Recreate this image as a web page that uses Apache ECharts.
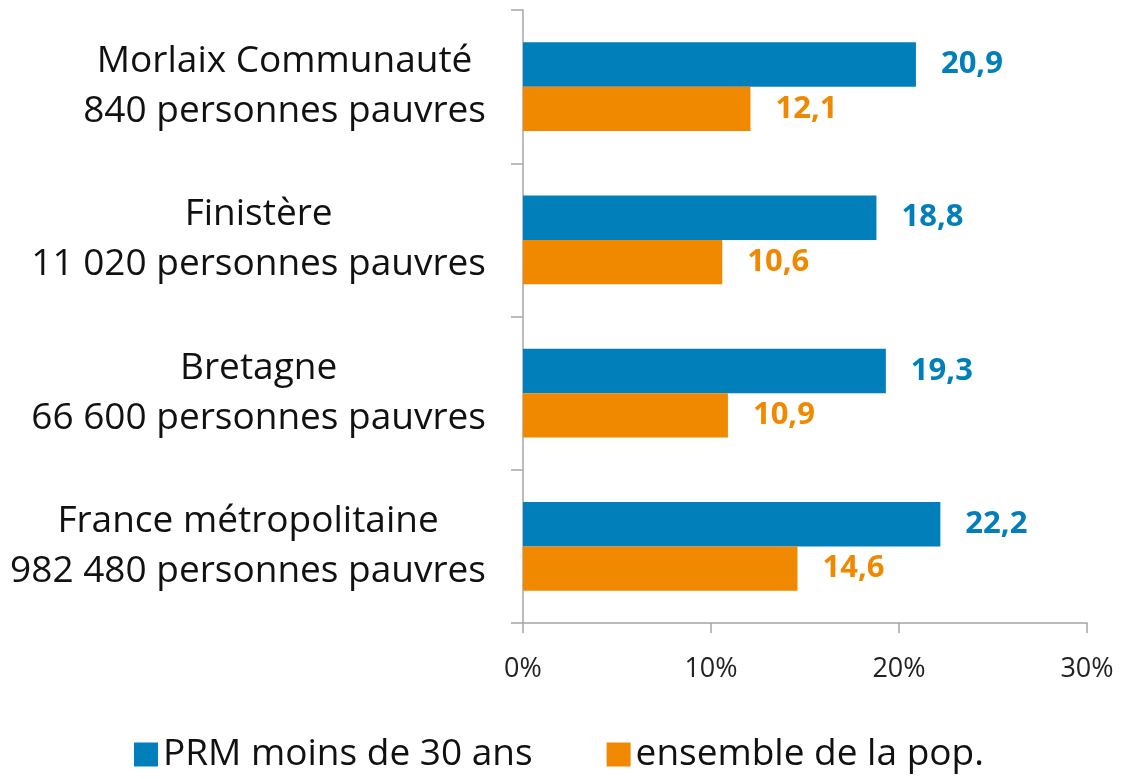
<!DOCTYPE html>
<html>
<head>
<meta charset="utf-8">
<style>
    html, body { margin: 0; padding: 0; background: #fff; }
    #chart { width: 1125px; height: 779px; }
</style>
<script src="https://cdn.jsdelivr.net/npm/echarts@6/dist/echarts.min.js"></script>
</head>
<body>
<div id="chart"></div>
<script>
    // territoires (2 lignes : nom + nombre de personnes pauvres)
    var territoires = ['Morlaix Communauté', 'Finistère', 'Bretagne', 'France métropolitaine'];
    var pauvres = ['840', '11 020', '66 600', '982 480'];
    var seriesNames = ['PRM moins de 30 ans', 'ensemble de la pop.'];
    var prm30 = [20.9, 18.8, 19.3, 22.2];
    var ensemble = [12.1, 10.6, 10.9, 14.6];
    var xTicks = [0, 10, 20, 30];

    var blue = '#007fba', orange = '#f08800';
    var police = '"Open Sans", "Noto Sans", sans-serif';

    var categories = territoires.map(function (t, i) {
        return '{a|' + t + '}\n{a|' + pauvres[i] + ' personnes pauvres}';
    });

    function virgule(p) {
        return String(p.value).replace('.', ',');
    }

    var chart = echarts.init(document.getElementById('chart'));
    var option = {
        animation: false,
        textStyle: { fontFamily: police },
        grid: { left: 523, right: 38, top: 10, bottom: 156 },
        legend: {
            data: seriesNames,
            bottom: 1,
            left: 129,
            itemWidth: 24,
            itemHeight: 24,
            itemGap: 74,
            icon: 'rect',
            textStyle: { fontFamily: police, fontSize: 37, color: '#111' }
        },
        xAxis: {
            type: 'value',
            min: xTicks[0],
            max: xTicks[xTicks.length - 1],
            interval: 10,
            splitLine: { show: false },
            axisLine: { show: true, lineStyle: { color: '#a6a6a6', width: 1.5 } },
            axisTick: { show: true, length: 10, lineStyle: { color: '#a6a6a6', width: 1.5 } },
            axisLabel: { formatter: '{value}%', fontSize: 27, color: '#222', margin: 33, fontFamily: police }
        },
        yAxis: {
            type: 'category',
            inverse: true,
            data: categories,
            axisLine: { show: true, lineStyle: { color: '#a6a6a6', width: 1.5 } },
            axisTick: { show: true, length: 12, lineStyle: { color: '#a6a6a6', width: 1.5 } },
            axisLabel: {
                margin: 37,
                color: '#111',
                rich: { a: { align: 'center', fontSize: 37, lineHeight: 50, fontFamily: police, color: '#111' } }
            }
        },
        series: [
            {
                name: seriesNames[0],
                type: 'bar',
                data: prm30,
                barGap: '0%',
                barCategoryGap: '42%',
                itemStyle: { color: blue },
                label: { show: true, position: 'right', distance: 25, formatter: virgule,
                    color: blue, fontWeight: 'bold', fontSize: 31, fontFamily: police }
            },
            {
                name: seriesNames[1],
                type: 'bar',
                data: ensemble,
                barGap: '0%',
                barCategoryGap: '42%',
                itemStyle: { color: orange },
                label: { show: true, position: 'right', distance: 25, formatter: virgule,
                    color: orange, fontWeight: 'bold', fontSize: 31, fontFamily: police }
            }
        ]
    };
    chart.setOption(option);
</script>
</body>
</html>
